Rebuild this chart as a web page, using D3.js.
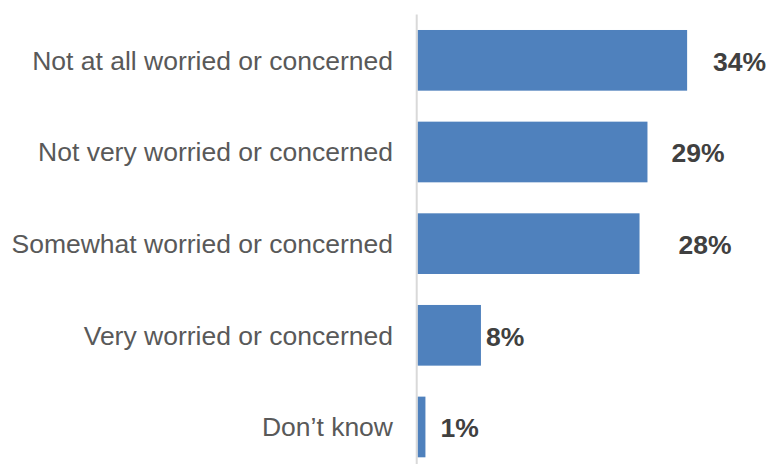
<!DOCTYPE html>
<html>
<head>
<meta charset="utf-8">
<script src="https://cdn.jsdelivr.net/npm/d3@7"></script>
<style>
  html, body { margin: 0; padding: 0; background: #fff; }
  svg { display: block; }
</style>
</head>
<body>
<svg id="chart" width="769" height="464"></svg>
<script>
// Survey answers, top to bottom
const categories = [
  "Not at all worried or concerned",
  "Not very worried or concerned",
  "Somewhat worried or concerned",
  "Very worried or concerned",
  "Don\u2019t know"
];
const values = [34, 29, 28, 8, 1];
const valueLabels = ["34%", "29%", "28%", "8%", "1%"];

// Layout
const width = 769, height = 464;
const axisX = 417.5;
const pxPerPoint = 7.93;
const labelGap = [26, 24, 39, 5, 15];   // hand-placed offsets of the value labels
const fontSize = 26.5;

const svg = d3.select("#chart");

const x = d3.scaleLinear()
  .domain([0, d3.max(values)])
  .range([axisX, axisX + d3.max(values) * pxPerPoint]);

const y = d3.scaleBand()
  .domain(categories)
  .range([14.5, 472.8])
  .paddingInner(0.338)
  .paddingOuter(0.169);

const data = categories.map((c, i) => ({ c, v: values[i], label: valueLabels[i], gap: labelGap[i] }));

// Bars
svg.append("g")
  .selectAll("rect")
  .data(data)
  .join("rect")
  .attr("x", x(0))
  .attr("y", d => y(d.c))
  .attr("width", d => x(d.v) - x(0))
  .attr("height", y.bandwidth())
  .attr("fill", "#4f81bd");

// Vertical category axis line
svg.append("line")
  .attr("x1", axisX - 0.8).attr("x2", axisX - 0.8)
  .attr("y1", y.range()[0]).attr("y2", y.range()[1])
  .attr("stroke", "#d9d9d9")
  .attr("stroke-width", 2);

// Category labels
const yAxis = d3.axisLeft(y).tickSize(0).tickPadding(0);
const gAxis = svg.append("g")
  .attr("transform", `translate(${axisX - 24.5},0)`)
  .call(yAxis);
gAxis.select(".domain").remove();
gAxis.selectAll("text")
  .attr("font-family", "Liberation Sans, Arial, sans-serif")
  .attr("font-size", fontSize)
  .attr("fill", "#595959")
  .attr("dy", "0.35em");

// Value labels
svg.append("g")
  .selectAll("text")
  .data(data)
  .join("text")
  .attr("x", d => x(d.v) + d.gap)
  .attr("y", d => y(d.c) + y.bandwidth() / 2 + 1)
  .attr("dy", "0.35em")
  .attr("font-family", "Liberation Sans, Arial, sans-serif")
  .attr("font-weight", "bold")
  .attr("font-size", fontSize)
  .attr("fill", "#404040")
  .text(d => d.label);
</script>
</body>
</html>
